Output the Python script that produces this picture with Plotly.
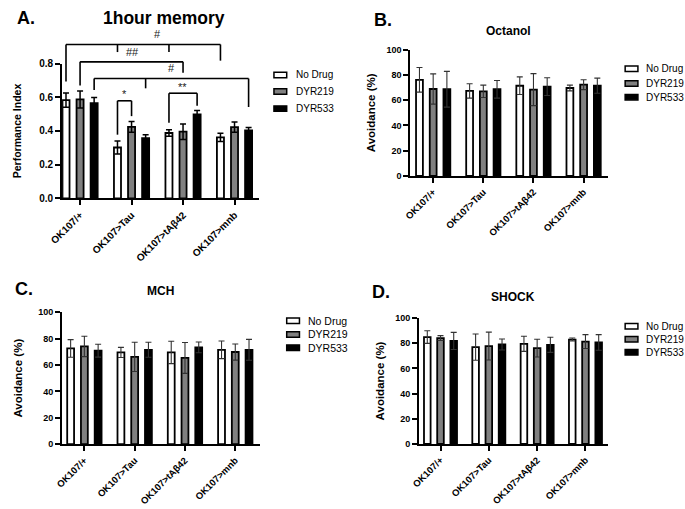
import plotly.graph_objects as go

W, H = 685, 509
FONT = "Liberation Sans, Arial, sans-serif"

categories = ["OK107/+", "OK107>Tau", "OK107>tAβ42", "OK107>mnb"]
series_names = ["No Drug", "DYR219", "DYR533"]

# Panel A: 1hour memory (Performance Index)
pi_nodrug = [0.583, 0.302, 0.388, 0.362]
pi_nodrug_err = [0.042, 0.038, 0.020, 0.024]
pi_dyr219 = [0.587, 0.424, 0.396, 0.423]
pi_dyr219_err = [0.050, 0.032, 0.046, 0.030]
pi_dyr533 = [0.565, 0.357, 0.498, 0.403]
pi_dyr533_err = [0.034, 0.021, 0.024, 0.018]

# Panel B: Octanol avoidance (%)
oct_nodrug = [76.2, 67.4, 71.5, 69.7]
oct_nodrug_err = [9.8, 5.7, 7.0, 2.3]
oct_dyr219 = [68.9, 67.1, 68.4, 72.3]
oct_dyr219_err = [12.0, 4.9, 12.7, 3.9]
oct_dyr533 = [68.7, 68.7, 70.8, 71.5]
oct_dyr533_err = [14.2, 7.0, 7.0, 6.0]

# Panel C: MCH avoidance (%)
mch_nodrug = [72.5, 69.5, 69.5, 71.5]
mch_nodrug_err = [6.7, 3.8, 8.5, 6.7]
mch_dyr219 = [74.0, 66.1, 65.3, 69.8]
mch_dyr219_err = [7.7, 11.1, 11.7, 6.1]
mch_dyr533 = [70.8, 71.5, 73.3, 71.5]
mch_dyr533_err = [4.9, 5.7, 4.1, 7.9]

# Panel D: SHOCK avoidance (%)
shock_nodrug = [84.9, 76.9, 79.5, 82.9]
shock_nodrug_err = [5.0, 10.4, 6.0, 1.2]
shock_dyr219 = [84.1, 77.7, 76.1, 81.3]
shock_dyr219_err = [1.9, 11.1, 7.0, 5.5]
shock_dyr533 = [81.8, 79.0, 78.7, 80.6]
shock_dyr533_err = [6.8, 4.4, 6.0, 6.2]

# Significance brackets on panel A
brackets = [
    dict(a=(0, 0), b=(3, 0), y=0.913, ya=0.694, yb=0.817, inner=[((1, 0), 0.868), ((2, 0), 0.868)]),
    dict(a=(0, 1), b=(2, 1), y=0.810, ya=0.669, yb=0.746, inner=[]),
    dict(a=(0, 2), b=(3, 2), y=0.711, ya=0.643, yb=0.542, inner=[((1, 2), 0.653)]),
    dict(a=(2, 0), b=(2, 2), y=0.624, ya=0.449, yb=0.550, inner=[]),
    dict(a=(1, 0), b=(1, 1), y=0.579, ya=0.378, yb=0.488, inner=[]),
]
bracket_labels = [("#", 1.5, 0.975), ("##", 1.02, 0.866), ("#", 1.78, 0.772),
                  ("**", 1.99, 0.662), ("*", 0.86, 0.617)]

fill_colors = ["#ffffff", "#808080", "#000000"]

BARGAP = 0.18
SLOT = (1 - BARGAP) / 3


def xpos(cat, s):
    return cat + (s - 1) * SLOT


panels = [
    dict(xa="x", ya="y", px=(50, 251), py=(197.3, 59.7), xr=(-0.35, 3.48), yr=(0, 0.8), dtick=0.2, fmt=".1f",
         data=[(pi_nodrug, pi_nodrug_err), (pi_dyr219, pi_dyr219_err), (pi_dyr533, pi_dyr533_err)],
         ytitle="Performance Index", ytfs=10.5, tickfs=10, xtickfs=10, errw=1.5, errc="#000000", standoff=15),
    dict(xa="x2", ya="y2", px=(405, 606.7), py=(174.3, 45.7), xr=(-0.456, 3.49), yr=(0, 100), dtick=20, fmt="d",
         data=[(oct_nodrug, oct_nodrug_err), (oct_dyr219, oct_dyr219_err), (oct_dyr533, oct_dyr533_err)],
         ytitle="Avoidance (%)", ytfs=11.5, tickfs=9, xtickfs=9.5, errw=1.1, errc="#333333", standoff=8),
    dict(xa="x3", ya="y3", px=(50, 251.7), py=(448, 313.3), xr=(-0.444, 3.49), yr=(0, 100), dtick=20, fmt="d",
         data=[(mch_nodrug, mch_nodrug_err), (mch_dyr219, mch_dyr219_err), (mch_dyr533, mch_dyr533_err)],
         ytitle="Avoidance (%)", ytfs=11.5, tickfs=9, xtickfs=9.5, errw=1.1, errc="#333333", standoff=13),
    dict(xa="x4", ya="y4", px=(414, 606.7), py=(447.7, 319.3), xr=(-0.442, 3.47), yr=(0, 100), dtick=20, fmt="d",
         data=[(shock_nodrug, shock_nodrug_err), (shock_dyr219, shock_dyr219_err), (shock_dyr533, shock_dyr533_err)],
         ytitle="Avoidance (%)", ytfs=11.5, tickfs=9, xtickfs=9.5, errw=1.1, errc="#333333", standoff=8),
]

fig = go.Figure()
layout = dict(
    width=W, height=H, margin=dict(l=0, r=0, t=0, b=0),
    paper_bgcolor="white", plot_bgcolor="white",
    barmode="group", bargap=BARGAP, bargroupgap=0.5,
    showlegend=False, font=dict(family=FONT, color="black"),
)

for p in panels:
    xs = list(range(len(categories)))
    for s, (vals, errs) in enumerate(p["data"]):
        fig.add_trace(go.Bar(
            x=xs, y=vals, name=series_names[s], xaxis=p["xa"], yaxis=p["ya"],
            marker=dict(color=fill_colors[s], line=dict(color="black", width=1.8)),
            error_y=dict(type="data", array=errs, visible=True, color=p["errc"],
                         thickness=p["errw"], width=3),
            showlegend=False,
        ))
    xk = "xaxis" + p["xa"][1:]
    yk = "yaxis" + p["ya"][1:]
    layout[xk] = dict(
        domain=[p["px"][0] / W, p["px"][1] / W], range=list(p["xr"]), anchor=p["ya"],
        tickmode="array", tickvals=xs, ticktext=categories, tickangle=-45,
        showline=True, linecolor="black", linewidth=2, ticks="outside", ticklen=5, tickwidth=2,
        tickcolor="black", showgrid=False, zeroline=False,
        tickfont=dict(family=FONT, size=p["xtickfs"], weight="bold", color="black"),
    )
    layout[yk] = dict(
        domain=[1 - p["py"][0] / H, 1 - p["py"][1] / H], range=list(p["yr"]), anchor=p["xa"],
        tick0=0, dtick=p["dtick"], tickformat=p["fmt"],
        showline=True, linecolor="black", linewidth=2, ticks="outside", ticklen=5, tickwidth=2,
        tickcolor="black", showgrid=False, zeroline=False,
        tickfont=dict(family=FONT, size=p["tickfs"], weight="bold", color="black"),
        title=dict(text=p["ytitle"], font=dict(family=FONT, size=p["ytfs"], weight="bold", color="black"),
                   standoff=p["standoff"]),
    )

fig.update_layout(**layout)

pA = panels[0]


def fx(x):
    return (x - pA["xr"][0]) / (pA["xr"][1] - pA["xr"][0])


def fy(y):
    return (y - pA["yr"][0]) / (pA["yr"][1] - pA["yr"][0])


def seg(x0, y0, x1, y1):
    fig.add_shape(type="line", xref="x domain", yref="y domain",
                  x0=fx(x0), y0=fy(y0), x1=fx(x1), y1=fy(y1),
                  line=dict(color="black", width=1.6))


for b in brackets:
    xa_ = xpos(*b["a"])
    xb_ = xpos(*b["b"])
    seg(xa_, b["y"], xb_, b["y"])
    seg(xa_, b["y"], xa_, b["ya"])
    seg(xb_, b["y"], xb_, b["yb"])
    for (cs, ylow) in b["inner"]:
        xi = xpos(*cs)
        seg(xi, b["y"], xi, ylow)

for (txt, x, y) in bracket_labels:
    fig.add_annotation(text=txt, xref="x domain", yref="y domain", x=fx(x), y=fy(y),
                       showarrow=False, font=dict(family=FONT, size=11, color="#222222"),
                       xanchor="center", yanchor="middle")

texts = [
    ("A.", 2, 13, 18, "left"), ("1hour memory", 154, 13, 17.5, "center"),
    ("B.", 366, 15, 18, "left"), ("Octanol", 505.5, 27, 12, "center"),
    ("C.", 0, 290, 18, "left"), ("MCH", 150, 292, 12, "center"),
    ("D.", 364, 293, 18, "left"), ("SHOCK", 510, 298, 12, "center"),
]
for (t, x, y, fs, anc) in texts:
    fig.add_annotation(text=t, xref="paper", yref="paper", x=x / W, y=1 - y / H,
                       showarrow=False, xanchor=anc, yanchor="middle",
                       font=dict(family=FONT, size=fs, weight="bold", color="black"))

legends = [
    dict(box=(266, 279), rows=(71.3, 88.3, 105.7), tx=286, fs=10),
    dict(box=(624, 637), rows=(65, 80, 94), tx=643, fs=10),
    dict(box=(279, 292), rows=(322, 336, 349.5), tx=299, fs=10.5),
    dict(box=(624, 637), rows=(327.7, 341, 354.3), tx=643, fs=10),
]
for lg in legends:
    for s, ry in enumerate(lg["rows"]):
        fig.add_shape(type="rect", xref="paper", yref="paper",
                      x0=lg["box"][0] / W, x1=lg["box"][1] / W,
                      y0=1 - (ry + 2.8) / H, y1=1 - (ry - 2.8) / H,
                      fillcolor=fill_colors[s], line=dict(color="black", width=1.5))
        fig.add_annotation(text=series_names[s], xref="paper", yref="paper",
                           x=lg["tx"] / W, y=1 - ry / H, showarrow=False,
                           xanchor="left", yanchor="middle",
                           font=dict(family=FONT, size=lg["fs"], color="black"))

fig.write_html("out.html", config={"displayModeBar": False},
               post_script="document.body.style.margin='0';document.body.style.overflow='hidden';")
